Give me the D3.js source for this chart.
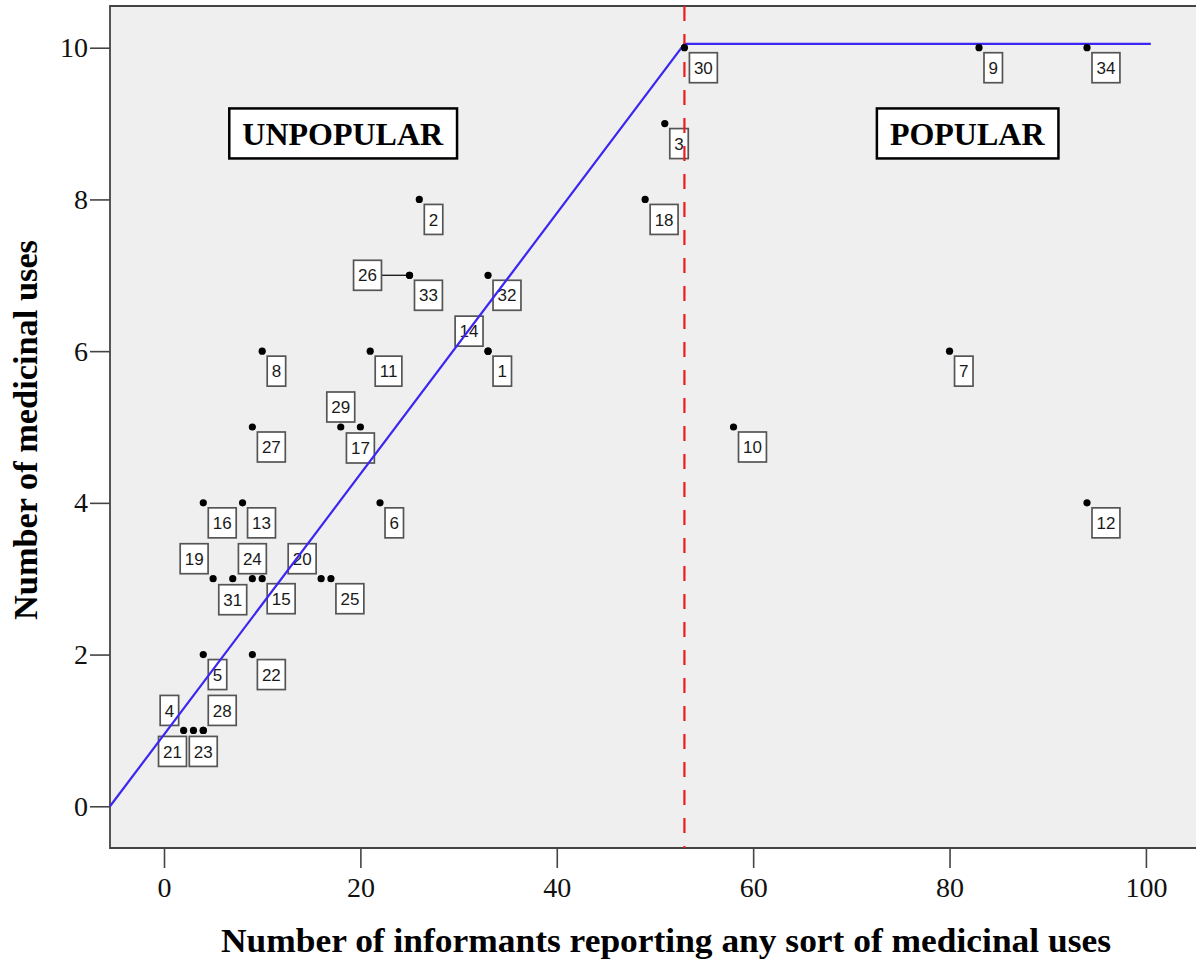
<!DOCTYPE html>
<html>
<head>
<meta charset="utf-8">
<script src="https://cdn.jsdelivr.net/npm/d3@7"></script>
<style>
  body { margin: 0; background: #fff; }
  svg { display: block; }
</style>
</head>
<body>
<script>

var W = 1196;
var H = 961;

// species ids, informants (x) and number of medicinal uses (y)
var ids        = [1, 2, 3, 4, 5, 6, 7, 8, 9, 10, 11, 12, 13, 14, 15, 16, 17,
                  18, 19, 20, 21, 22, 23, 24, 25, 26, 27, 28, 29, 30, 31, 32, 33, 34];
var informants = [33, 26, 51, 2, 4, 22, 80, 10, 83, 58, 21, 94, 8, 33, 10, 4, 20,
                  49, 5, 16, 3, 9, 4, 9, 17, 25, 9, 4, 18, 53, 7, 33, 25, 94];
var uses       = [6, 8, 9, 1, 2, 4, 6, 6, 10, 5, 6, 4, 4, 6, 3, 4, 5,
                  8, 3, 3, 1, 2, 1, 3, 3, 7, 5, 1, 5, 10, 3, 7, 7, 10];

// piecewise fit line and cut-off
var fitX = [-5.5, 53, 100.5];
var fitY = [0, 10.05, 10.05];
var cutoff = 53;

var xTicks = [0, 20, 40, 60, 80, 100];
var yTicks = [0, 2, 4, 6, 8, 10];

// where each label box sits relative to its point (default: below right)
var labelPlace = {4: "tl", 14: "tl", 19: "tl", 20: "tl", 21: "bl", 23: "b", 31: "b",
                  17: "b", 24: "t", 29: "t", 28: "tr", 26: "l"};

var margin = {top: 6, right: 0, bottom: 113, left: 110};
var iw = W - margin.left - margin.right;
var ih = H - margin.top - margin.bottom;

var svg = d3.select("body")
        .append("svg")
        .attr("width", W)
        .attr("height", H);

var x = d3.scaleLinear().domain([-5.5, 105.1]).range([0, iw]);
var y = d3.scaleLinear().domain([-0.55, 10.55]).range([ih, 0]);

var g = svg.append("g")
        .attr("transform", "translate(" + margin.left + "," + margin.top + ")");

g.append("rect")
    .attr("width", iw)
    .attr("height", ih)
    .attr("fill", "#efefef");

// axes
var xAxis = g.append("g")
        .attr("transform", "translate(0," + ih + ")")
        .call(d3.axisBottom(x).tickValues(xTicks).tickSize(20).tickPadding(9));
var yAxis = g.append("g")
        .call(d3.axisLeft(y).tickValues(yTicks).tickSize(20).tickPadding(2));

[xAxis, yAxis].forEach(function(a) {
    a.select(".domain").remove();
    a.selectAll("line").attr("stroke", "#444").attr("stroke-width", 1.6);
    a.selectAll("text")
        .attr("fill", "#111")
        .style("font-family", "'Liberation Serif', 'Times New Roman', serif")
        .style("font-size", "28px");
});

// plot frame
g.append("path")
    .attr("d", "M" + iw + ",0H0V" + ih + "H" + iw)
    .attr("fill", "none")
    .attr("stroke", "#444")
    .attr("stroke-width", 1.8);

var pts = ids.map(function(id, i) {
    return {id: id, x: informants[i], y: uses[i]};
});

// label boxes
var labels = g.selectAll("g.lab")
        .data(pts)
        .enter()
        .append("g")
        .attr("class", "lab");

labels.each(function(d) {
    var sel = d3.select(this);
    var px = x(d.x), py = y(d.y);
    var t = sel.append("text")
            .text(d.id)
            .attr("fill", "#1a1a1a")
            .style("font-family", "'Liberation Sans', Arial, sans-serif")
            .style("font-size", "17px");
    var bw = t.node().getComputedTextLength() + 9;
    var bh = 30;
    var place = labelPlace[d.id] || "br";
    var bx, by;
    if (place == "br") { bx = px + 5; by = py + 5; }
    else if (place == "tl") { bx = px - 5 - bw; by = py - 5 - bh; }
    else if (place == "tr") { bx = px + 5; by = py - 5 - bh; }
    else if (place == "bl") { bx = px - 7 - bw; by = py + 6; }
    else if (place == "b") { bx = px - bw / 2; by = py + 6; }
    else if (place == "t") { bx = px - bw / 2; by = py - 5 - bh; }
    else if (place == "l") { bx = px - 28 - bw; by = py - bh / 2; }

    if (place == "l") {
        sel.insert("line", "text")
            .attr("x1", bx + bw).attr("x2", px)
            .attr("y1", py).attr("y2", py)
            .attr("stroke", "#111")
            .attr("stroke-width", 1.3);
    }
    sel.insert("rect", "text")
        .attr("x", bx)
        .attr("y", by)
        .attr("width", bw)
        .attr("height", bh)
        .attr("fill", "#fff")
        .attr("stroke", "#555")
        .attr("stroke-width", 1.7);
    t.attr("x", bx + bw / 2)
        .attr("y", by + bh / 2)
        .attr("text-anchor", "middle")
        .attr("dy", "0.36em");
});

// fit line
var line = d3.line()
        .x(function(d) { return x(d[0]); })
        .y(function(d) { return y(d[1]); });

g.append("path")
    .datum(fitX.map(function(v, i) { return [v, fitY[i]]; }))
    .attr("d", line)
    .attr("fill", "none")
    .attr("stroke", "#3b26f2")
    .attr("stroke-width", 2.2);

// cut-off
g.append("line")
    .attr("x1", x(cutoff)).attr("x2", x(cutoff))
    .attr("y1", 0).attr("y2", ih)
    .attr("stroke", "#ee1c1c")
    .attr("stroke-width", 2.2)
    .attr("stroke-dasharray", "15,13");

g.selectAll("circle.pt")
    .data(pts)
    .enter()
    .append("circle")
    .attr("class", "pt")
    .attr("cx", function(d) { return x(d.x); })
    .attr("cy", function(d) { return y(d.y); })
    .attr("r", 3.6)
    .attr("fill", "#000");

// zone annotations
function zone(txt, cx, cy) {
    var a = g.append("g");
    var t = a.append("text")
            .text(txt)
            .attr("x", cx)
            .attr("y", cy)
            .attr("text-anchor", "middle")
            .attr("dy", "0.35em")
            .attr("fill", "#000")
            .style("font-family", "'Liberation Serif', 'Times New Roman', serif")
            .style("font-weight", "bold")
            .style("font-size", "32px");
    var bb = t.node().getBBox();
    a.insert("rect", "text")
        .attr("x", bb.x - 13)
        .attr("y", cy - 25)
        .attr("width", bb.width + 26)
        .attr("height", 50)
        .attr("fill", "#fff")
        .attr("stroke", "#000")
        .attr("stroke-width", 2.5);
}
zone("UNPOPULAR", x(18.2), y(8.87));
zone("POPULAR", x(81.8), y(8.87));

// axis titles
svg.append("text")
    .text("Number of informants reporting any sort of medicinal uses")
    .attr("x", 666)
    .attr("y", 952)
    .attr("text-anchor", "middle")
    .attr("textLength", 890)
    .attr("lengthAdjust", "spacingAndGlyphs")
    .attr("fill", "#000")
    .style("font-family", "'Liberation Serif', 'Times New Roman', serif")
    .style("font-weight", "bold")
    .style("font-size", "34px");

svg.append("text")
    .text("Number of medicinal uses")
    .attr("transform", "translate(37,430) rotate(-90)")
    .attr("text-anchor", "middle")
    .attr("textLength", 380)
    .attr("lengthAdjust", "spacingAndGlyphs")
    .attr("fill", "#000")
    .style("font-family", "'Liberation Serif', 'Times New Roman', serif")
    .style("font-weight", "bold")
    .style("font-size", "34px");

</script>
</body>
</html>
